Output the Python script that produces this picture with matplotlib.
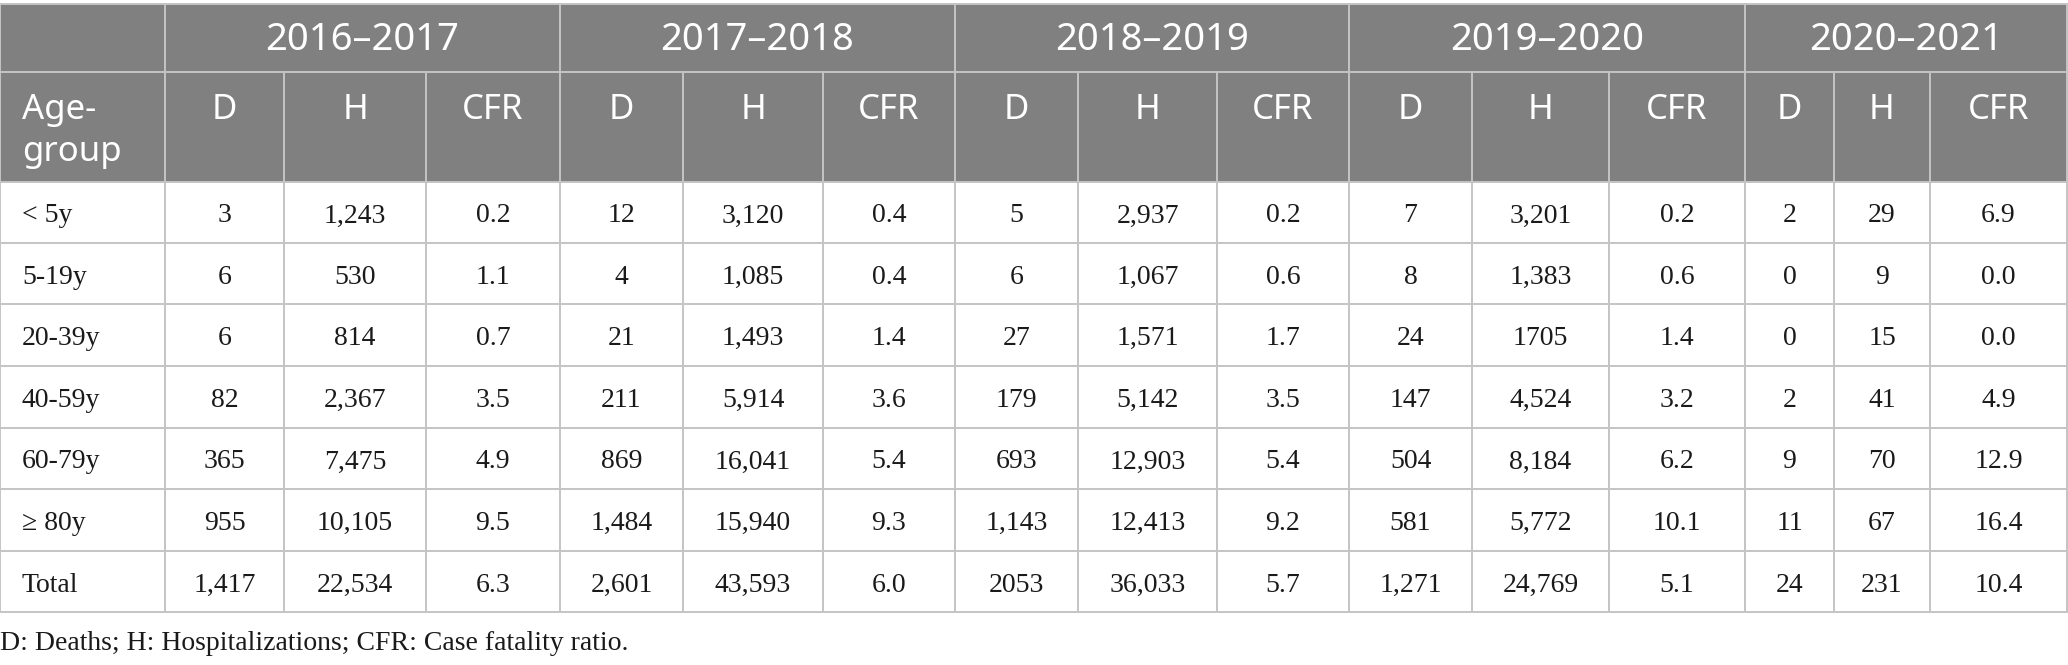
import matplotlib
matplotlib.use("Agg")
import matplotlib.pyplot as plt
from matplotlib.patches import Rectangle

# table contents
seasons = ["2016–2017", "2017–2018", "2018–2019", "2019–2020", "2020–2021"]
sub_cols = ["D", "H", "CFR"]
age_groups = ["< 5y", "5-19y", "20-39y", "40-59y", "60-79y", "≥ 80y", "Total"]

deaths = [
    ["3", "6", "6", "82", "365", "955", "1,417"],
    ["12", "4", "21", "211", "869", "1,484", "2,601"],
    ["5", "6", "27", "179", "693", "1,143", "2053"],
    ["7", "8", "24", "147", "504", "581", "1,271"],
    ["2", "0", "0", "2", "9", "11", "24"],
]
hosp = [
    ["1,243", "530", "814", "2,367", "7,475", "10,105", "22,534"],
    ["3,120", "1,085", "1,493", "5,914", "16,041", "15,940", "43,593"],
    ["2,937", "1,067", "1,571", "5,142", "12,903", "12,413", "36,033"],
    ["3,201", "1,383", "1705", "4,524", "8,184", "5,772", "24,769"],
    ["29", "9", "15", "41", "70", "67", "231"],
]
cfr = [
    ["0.2", "1.1", "0.7", "3.5", "4.9", "9.5", "6.3"],
    ["0.4", "0.4", "1.4", "3.6", "5.4", "9.3", "6.0"],
    ["0.2", "0.6", "1.7", "3.5", "5.4", "9.2", "5.7"],
    ["0.2", "0.6", "1.4", "3.2", "6.2", "10.1", "5.1"],
    ["6.9", "0.0", "0.0", "4.9", "12.9", "16.4", "10.4"],
]
footnote = "D: Deaths; H: Hospitalizations; CFR: Case fatality ratio."

W, H = 2068, 665
col_edges = [0, 165, 284, 426, 560, 683, 823, 955, 1078, 1217, 1349,
             1472, 1609, 1745, 1834, 1930, 2067]
row_edges = [4, 72, 182, 243, 304, 366, 428, 489, 551, 612]

head_bg = "#808080"
grid = "#c4c4c4"
sans = ["Noto Sans", "DejaVu Sans"]
serif = ["Liberation Serif", "DejaVu Serif"]

fig = plt.figure(figsize=(W / 100, H / 100), dpi=100)
ax = fig.add_axes([0, 0, 1, 1])
ax.set_xlim(0, W)
ax.set_ylim(H, 0)
ax.axis("off")

# header background
ax.add_patch(Rectangle((col_edges[0], row_edges[0]), col_edges[-1] - col_edges[0],
                       row_edges[2] - row_edges[0], color=head_bg, lw=0))

lw = 1.4
# horizontal lines
for y in row_edges:
    ax.plot([col_edges[0], col_edges[-1]], [y, y], color=grid, lw=lw)
# vertical lines
for i, x in enumerate(col_edges):
    if i in (0, 1, 4, 7, 10, 13, 16):
        ax.plot([x, x], [row_edges[0], row_edges[-1]], color=grid, lw=lw)
    else:
        ax.plot([x, x], [row_edges[1], row_edges[-1]], color=grid, lw=lw)

# header row 1: seasons
for s, name in enumerate(seasons):
    x0 = col_edges[1 + 3 * s]
    x1 = col_edges[4 + 3 * s]
    ax.text((x0 + x1) / 2, 40, name, ha="center", va="center",
            color="white", fontsize=27.5, family=sans)

# header row 2
ax.text(22, 110, "Age-", ha="left", va="center", color="white", fontsize=25, family=sans)
ax.text(22, 152, "group", ha="left", va="center", color="white", fontsize=25, family=sans)
for s in range(len(seasons)):
    for k, lab in enumerate(sub_cols):
        c = 1 + 3 * s + k
        ax.text((col_edges[c] + col_edges[c + 1]) / 2, 110, lab, ha="center", va="center",
                color="white", fontsize=25, family=sans)

# body
for r, age in enumerate(age_groups):
    yc = (row_edges[2 + r] + row_edges[3 + r]) / 2 + 10
    ax.text(22, yc, age, ha="left", va="baseline", fontsize=20, family=serif, color="#1a1a1a")
    for s in range(len(seasons)):
        vals = [deaths[s][r], hosp[s][r], cfr[s][r]]
        for k, v in enumerate(vals):
            c = 1 + 3 * s + k
            ax.text((col_edges[c] + col_edges[c + 1]) / 2, yc, v, ha="center", va="baseline",
                    fontsize=20, family=serif, color="#1a1a1a")

ax.text(0, 650, footnote, ha="left", va="baseline", fontsize=20, family=serif, color="#1a1a1a")

fig.savefig("out.png", dpi=100, facecolor="white")
